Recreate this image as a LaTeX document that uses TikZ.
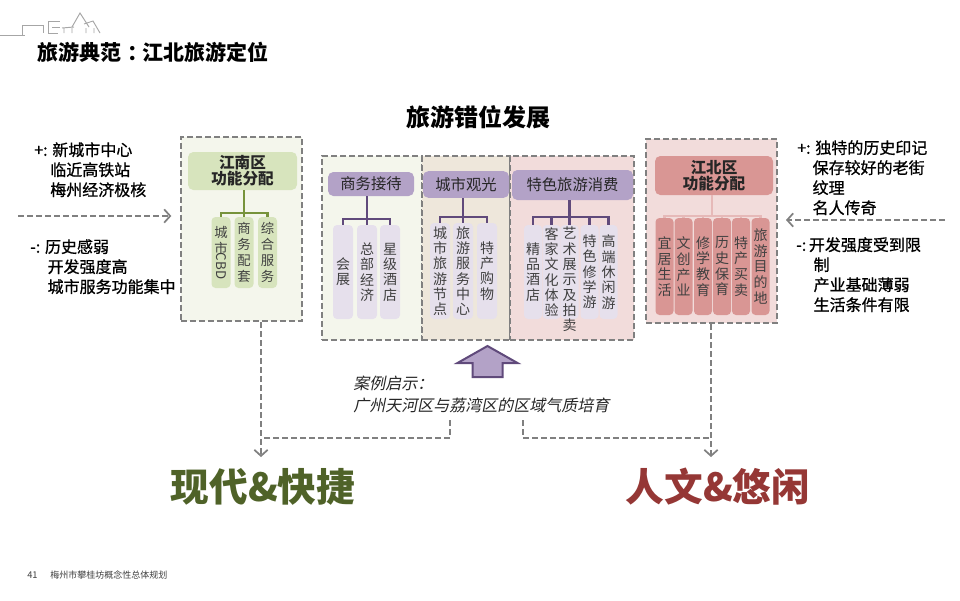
\documentclass[tikz,border=0pt]{standalone}
\usepackage{fontspec}
\usepackage{graphicx}
\setmainfont{Noto Sans CJK SC}
\newfontfamily\slantfont{Noto Sans CJK SC}[FakeSlant=0.2]
\newfontfamily\sidefont{Noto Sans CJK SC}[FakeBold=0.8]
\usetikzlibrary{arrows.meta,positioning}
\definecolor{ink}{HTML}{262626}
\definecolor{leafink}{HTML}{404040}
\definecolor{dashgray}{HTML}{808080}
\definecolor{sketch}{HTML}{A6A6A6}
\definecolor{paleg}{HTML}{F4F6EC}
\definecolor{paletan}{HTML}{EEE7DB}
\definecolor{palerose}{HTML}{F2DCDB}
\definecolor{oliveA}{HTML}{D7E4BD}
\definecolor{oliveB}{HTML}{77933C}
\definecolor{lavA}{HTML}{B3A2C7}
\definecolor{lavB}{HTML}{604A7B}
\definecolor{lavC}{HTML}{E6E0EC}
\definecolor{roseA}{HTML}{D99694}
\definecolor{roseB}{HTML}{E6B9B8}
\definecolor{greenword}{HTML}{4F6228}
\definecolor{redword}{HTML}{953735}
\tikzset{
  zone/.style={draw=dashgray,line width=1.5pt,dash pattern=on 4.5pt off 2.25pt,inner sep=0pt,minimum height=138pt},
  hdr/.style={rounded corners=4pt,inner sep=0pt,align=center,text=ink},
  hdrg/.style={hdr,fill=oliveA,font=\bfseries\fontsize{11.7}{12}\selectfont},
  hdrr/.style={hdr,fill=roseA,font=\bfseries\fontsize{11.7}{12}\selectfont},
  hdrp/.style={hdr,fill=lavA,font=\fontsize{11.5}{12}\selectfont},
  leaf/.style={rounded corners=3pt,inner sep=0pt,align=center,text=leafink,font=\fontsize{10.5}{11.5}\selectfont},
  leafg/.style={leaf,fill=oliveA,minimum width=14.25pt,minimum height=53.25pt,font=\fontsize{10}{12}\selectfont},
  leafp/.style={leaf,fill=lavC,minimum width=15pt,minimum height=70.5pt},
  leafr/.style={leaf,fill=roseA,minimum width=13.5pt,minimum height=72.75pt,font=\fontsize{10.5}{11.75}\selectfont},
  leaftxt/.style={inner sep=0pt,align=center,text=leafink,font=\fontsize{10.5}{11.5}\selectfont},
  treeg/.style={draw=oliveB,line width=2.2pt},
  treep/.style={draw=lavB,line width=2pt},
  treer/.style={draw=roseB,line width=2pt},
  dline/.style={draw=dashgray,line width=1.5pt,dash pattern=on 4.5pt off 2.25pt},
  darr/.style={dline,-{Straight Barb[length=4.5pt,width=10pt,line width=1.3pt]}},
  side/.style={anchor=north west,inner sep=0pt,align=left,text=black,font=\sidefont\fontsize{12}{15}\selectfont},
  bigword/.style={font=\bfseries\fontsize{29}{30}\selectfont},
  sketchline/.style={draw=sketch,line width=0.7pt},
}
\begin{document}
\begin{tikzpicture}[x=0.75pt,y=-0.75pt]
  \useasboundingbox (0,0) rectangle (960,600);
  \fill[white] (0,0) rectangle (960,600);

  % corner sketch
  \draw[sketchline] (0,35) -- (25,35) (22,35) -- (22,25) -- (43,25) (43,25) -- (43,33);
  \draw[sketchline] (48,21) -- (60,21) (48,21) -- (48,33) -- (58,33) (52,27) -- (60,27);
  \draw[sketchline] (62,28) -- (74,27) (64,28) -- (64,33) (72,28) -- (72,33);
  \draw[sketchline] (72,27) -- (80,13) -- (89,27) (84,24) -- (93,21) -- (100,33) (86,28) -- (86,33) (94,28) -- (94,33);

  \node[anchor=west,inner sep=0pt,font=\bfseries\fontsize{15.75}{16}\selectfont] (title) at (37,52) {旅游典范\hspace{0.3em}：\hspace{-0.3em}江北旅游定位};
  \node[inner sep=0pt,font=\bfseries\fontsize{18}{19}\selectfont] (head) at (478,117) {旅游错位发展};

  % zones
  \node[zone,fill=paleg,minimum width=90.75pt] (jn) at (241.5,229) {};
  \node[zone,fill=palerose,minimum width=98.25pt] (jb) at (711.5,231) {};
  \node[zone,fill=paleg,minimum width=75pt] (z1) at (372,248) {};
  \node[zone,fill=paletan,minimum width=66pt] (z2) at (466,248) {};
  \node[zone,fill=palerose,minimum width=93pt] (z3) at (572,248) {};

  % 江南区
  \node[hdrg,minimum width=81.75pt,minimum height=28.5pt] (jnh) at (242.5,171) {江南区\\功能分配};
  \node[leafg] (jn1) at (221,252.5) {城\\市\\[-2pt]\rotatebox[origin=c]{-90}{CBD}};
  \node[leafg] (jn2) at (244,252.5) {商\\务\\配\\套};
  \node[leafg] (jn3) at (267.5,252.5) {综\\合\\服\\务};
  \coordinate (jnj) at (244,213);
  \draw[treeg] (jnh.south -| jnj) -- (jnj);
  \draw[treeg] (jn1.north) -- (jn1.north |- jnj) -- (jn3.north |- jnj) -- (jn3.north);
  \draw[treeg] (jn2.north) -- (jnj);

  % 商务接待
  \node[hdrp,minimum width=64.5pt,minimum height=18pt] (h1) at (371,184) {商务接待};
  \node[leafp] (a1) at (343,272) {会\\展};
  \node[leafp] (a2) at (367,272) {总\\部\\经\\济};
  \node[leafp] (a3) at (390,272) {星\\级\\酒\\店};
  \coordinate (aj) at (367,219);
  \draw[treep] (h1.south -| aj) -- (aj);
  \draw[treep] (a1.north) -- (a1.north |- aj) -- (a3.north |- aj) -- (a3.north);
  \draw[treep] (a2.north) -- (aj);

  % 城市观光
  \node[hdrp,minimum width=64.5pt,minimum height=20pt] (h2) at (466,184.5) {城市观光};
  \node[leafp,minimum height=72pt] (b1) at (440,271) {城\\市\\旅\\游\\节\\点};
  \node[leafp,minimum height=72pt] (b2) at (463,271) {旅\\游\\服\\务\\中\\心};
  \node[leafp,minimum height=72pt] (b3) at (487,271) {特\\产\\购\\物};
  \coordinate (bj) at (463,217);
  \draw[treep] (h2.south -| bj) -- (bj);
  \draw[treep] (b1.north) -- (b1.north |- bj) -- (b3.north |- bj) -- (b3.north);
  \draw[treep] (b2.north) -- (bj);

  % 特色旅游消费
  \node[hdrp,minimum width=90.75pt,minimum height=22.5pt] (h3) at (572.5,185) {特色旅游消费};
  \node[leafp,minimum width=13.5pt] (c1) at (533,272) {精\\品\\酒\\店};
  \node[leafp,minimum width=13.5pt] (c2) at (551.5,272) {客\\家\\文\\化\\体\\验};
  \node[leafp,minimum width=13.5pt] (c3) at (569.5,272) {};
  \node[leaftxt,anchor=north] (c3t) at ([yshift=-1.5pt]c3.north) {艺\\术\\展\\示\\及\\拍\\卖};
  \node[leafp,minimum width=13.5pt] (c4) at (589.5,272) {特\\色\\修\\学\\游};
  \node[leafp,minimum width=13.5pt] (c5) at (608.5,272) {高\\端\\休\\闲\\游};
  \coordinate (cj) at (569.5,217);
  \draw[treep] (h3.south -| cj) -- (cj);
  \draw[treep] (c1.north) -- (c1.north |- cj) -- (c5.north |- cj) -- (c5.north);
  \draw[treep] (c2.north) -- (c2.north |- cj) (c3.north) -- (cj) (c4.north) -- (c4.north |- cj);

  % 江北区
  \node[hdrr,minimum width=88.5pt,minimum height=29.25pt] (jbh) at (714,175.5) {江北区\\功能分配};
  \node[leafr] (d1) at (664.5,266.5) {宜\\居\\生\\活};
  \node[leafr] (d2) at (683.5,266.5) {文\\创\\产\\业};
  \node[leafr] (d3) at (703,266.5) {修\\学\\教\\育};
  \node[leafr] (d4) at (722,266.5) {历\\史\\保\\育};
  \node[leafr] (d5) at (741,266.5) {特\\产\\买\\卖};
  \node[leafr] (d6) at (760.5,266.5) {旅\\游\\目\\的\\地};
  \coordinate (rj) at (712,216);
  \draw[treer] (jbh.south -| rj) -- (rj);
  \draw[treer] (d1.north) -- (d1.north |- rj) -- (d6.north |- rj) -- (d6.north);
  \draw[treer] (d2.north) -- (d2.north |- rj) (d3.north) -- (d3.north |- rj)
    (d4.north) -- (d4.north |- rj) (d5.north) -- (d5.north |- rj);

  % side notes
  \node[side] (lp) at (34,142) {+: 新城市中心\\\hspace*{12pt}临近高铁站\\\hspace*{12pt}梅州经济极核};
  \node[side] (lm) at (30,239) {-: 历史感弱\\\hspace*{13pt}开发强度高\\\hspace*{13pt}城市服务功能集中};
  \node[side] (rp) at (797,140) {+: 独特的历史印记\\\hspace*{11.5pt}保存较好的老街\\\hspace*{11.5pt}纹理\\\hspace*{11.5pt}名人传奇};
  \node[side] (rm) at (796,237) {-:\,开发强度受到限\\\hspace*{13pt}制\\\hspace*{13pt}产业基础薄弱\\\hspace*{13pt}生活条件有限};
  \coordinate (la) at (18,216);
  \coordinate (ra) at (945,220);
  \draw[darr,shorten >=6.5pt] (la) -- (la -| jn.west);
  \draw[darr,shorten >=6pt] (ra) -- (ra -| jb.east);

  % case and outcome
  \draw[fill=lavA,draw=lavB,line width=1.5pt] (472.5,377) -- (472.5,363) -- (457.5,363) -- (487.5,346)
    -- (517.5,363) -- (502.5,363) -- (502.5,377) -- cycle;
  \node[anchor=north west,inner sep=0pt,align=left,text=ink,font=\slantfont\fontsize{12}{16.5}\selectfont] (case) at (353,376)
    {案例启示：\\广州天河区与荔湾区的区域气质培育};
  \coordinate (kx) at (261,457);
  \coordinate (rx) at (711,457);
  \coordinate (jl) at (261,438);
  \coordinate (jr) at (711,438);
  \coordinate (cl) at (450,420);
  \coordinate (cr) at (523,420);
  \draw[darr] (jn.south -| kx) -- (kx);
  \draw[darr] (jb.south -| rx) -- (rx);
  \draw[dline] (cl) |- (jl);
  \draw[dline] (cr) |- (jr);
  \node[bigword,text=greenword] (fast) at (263,487) {现代\&快捷};
  \node[bigword,text=redword] (leis) at (718,487) {人文\&悠闲};

  % footer
  \node[anchor=west,inner sep=0pt,text=leafink,font=\fontsize{7}{8}\selectfont] (pg) at (27,575) {41};
  \node[anchor=west,inner sep=0pt,text=leafink,font=\fontsize{6.75}{8}\selectfont] (foot) at (50,575) {梅州市攀桂坊概念性总体规划};
\end{tikzpicture}
\end{document}
